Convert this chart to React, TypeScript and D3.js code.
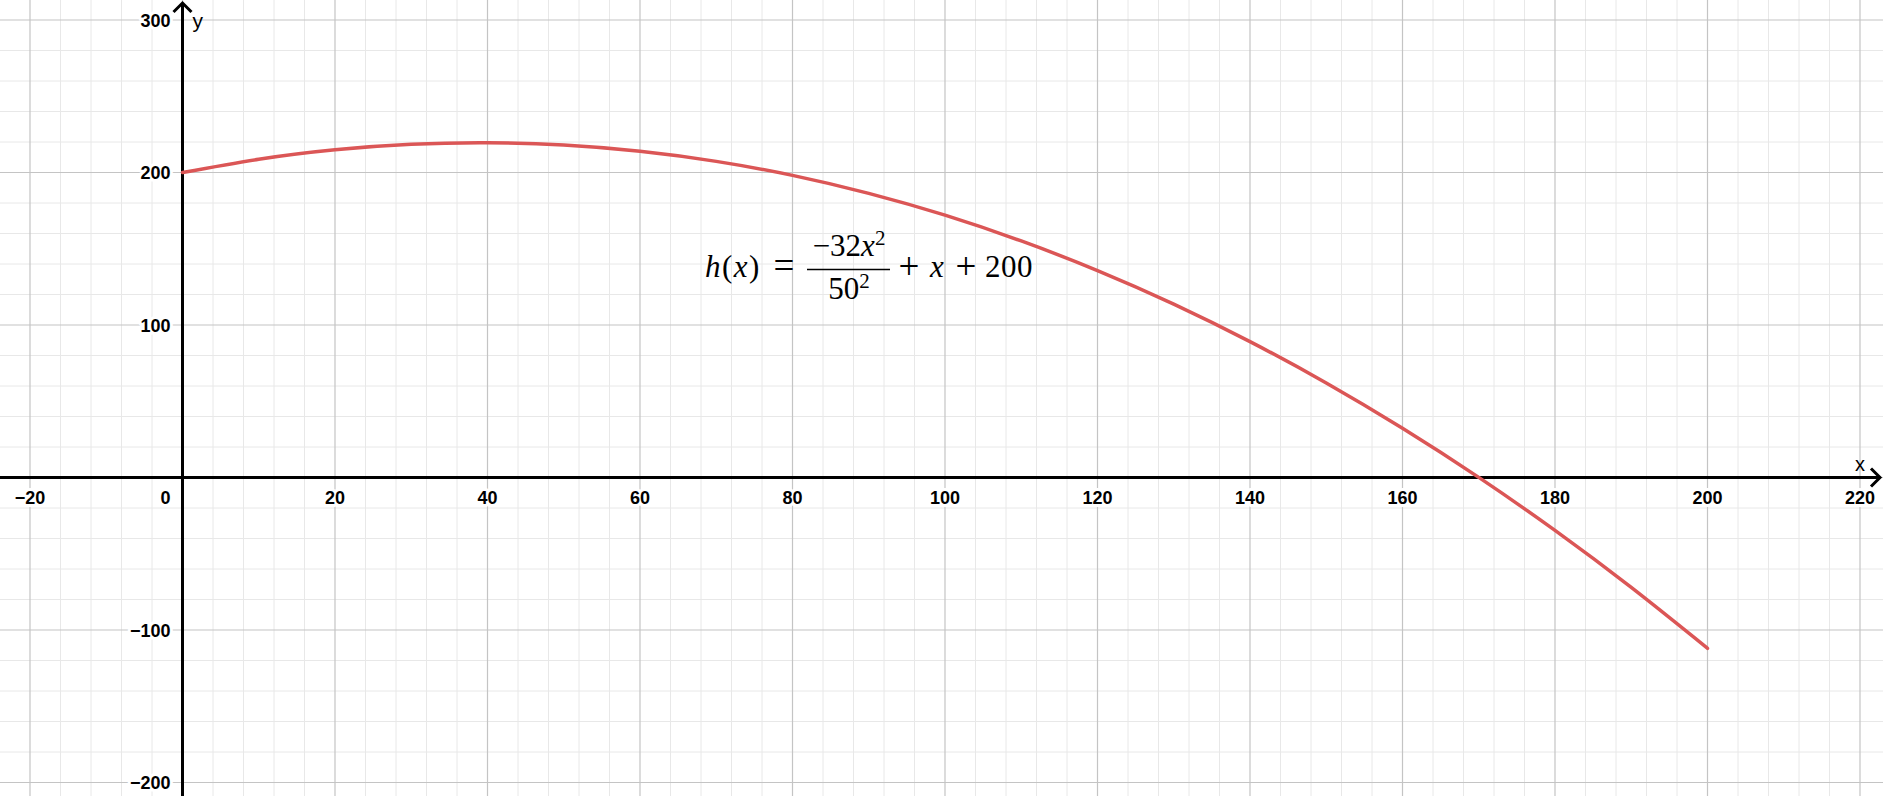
import React, { useEffect, useRef } from 'react';
import * as d3 from 'd3';

// tick labels on the axes
const xTicks = [-20, 20, 40, 60, 80, 100, 120, 140, 160, 180, 200, 220];
const yTicks = [-200, -100, 100, 200, 300];

const curveX = [0, 10, 20, 30, 40, 50, 60, 70, 80, 90, 100, 110, 120, 130, 140, 150, 160, 170, 180, 190, 200];
const curveY = [200, 208.7, 214.9, 218.5, 219.5, 218, 213.9, 207.3, 198.1, 186.3, 172, 155.1, 135.7, 113.7, 89.1, 62, 32.3, 0.1, -34.7, -72.1, -112];

const App = () => {
  const svgRef = useRef(null);

  useEffect(() => {
    const width = 1883;
    const height = 796;

    const svg = d3.select(svgRef.current);
    svg.selectAll('*').remove();
    svg.attr('width', width).attr('height', height);

    const xScale = d3.scaleLinear().domain([-20, 220]).range([30, 1860]);
    const yScale = d3.scaleLinear().domain([-200, 300]).range([782.5, 20]);

    const xMin = xScale.invert(0);
    const xMax = xScale.invert(width);
    const yMin = yScale.invert(height);
    const yMax = yScale.invert(0);

    svg.append('rect').attr('width', width).attr('height', height).attr('fill', '#fff');

    // minor grid
    const grid = svg.append('g');
    d3.range(Math.ceil(xMin / 4) * 4, xMax, 4).forEach(v => {
      if (v % 20 === 0) return;
      grid.append('line')
        .attr('x1', xScale(v)).attr('x2', xScale(v))
        .attr('y1', 0).attr('y2', height)
        .attr('stroke', '#e8e8e8').attr('stroke-width', 1);
    });
    d3.range(Math.ceil(yMin / 20) * 20, yMax, 20).forEach(v => {
      if (v % 100 === 0) return;
      grid.append('line')
        .attr('x1', 0).attr('x2', width)
        .attr('y1', yScale(v)).attr('y2', yScale(v))
        .attr('stroke', '#e8e8e8').attr('stroke-width', 1);
    });

    // major grid
    d3.range(Math.ceil(xMin / 20) * 20, xMax, 20).forEach(v => {
      grid.append('line')
        .attr('x1', xScale(v)).attr('x2', xScale(v))
        .attr('y1', 0).attr('y2', height)
        .attr('stroke', '#c4c4c4').attr('stroke-width', 1.2);
    });
    d3.range(Math.ceil(yMin / 100) * 100, yMax, 100).forEach(v => {
      grid.append('line')
        .attr('x1', 0).attr('x2', width)
        .attr('y1', yScale(v)).attr('y2', yScale(v))
        .attr('stroke', '#c4c4c4').attr('stroke-width', 1.2);
    });

    // axes
    const x0 = xScale(0);
    const y0 = yScale(0);
    svg.append('line')
      .attr('x1', 0).attr('x2', width - 3)
      .attr('y1', y0).attr('y2', y0)
      .attr('stroke', '#000').attr('stroke-width', 3);
    svg.append('line')
      .attr('x1', x0).attr('x2', x0)
      .attr('y1', height).attr('y2', 3)
      .attr('stroke', '#000').attr('stroke-width', 3);

    // arrow heads
    svg.append('path')
      .attr('d', `M${width - 12},${y0 - 9} L${width - 3},${y0} L${width - 12},${y0 + 9}`)
      .attr('fill', 'none').attr('stroke', '#000').attr('stroke-width', 3);
    svg.append('path')
      .attr('d', `M${x0 - 9},12 L${x0},3 L${x0 + 9},12`)
      .attr('fill', 'none').attr('stroke', '#000').attr('stroke-width', 3);

    // tick labels
    const labelStyle = (t: any) => t
      .attr('font-family', '"Liberation Sans", Arial, sans-serif')
      .attr('font-size', 18)
      .attr('font-weight', 'bold')
      .attr('fill', '#000')
      .attr('stroke', '#fff')
      .attr('stroke-width', 6)
      .attr('stroke-linejoin', 'round')
      .attr('paint-order', 'stroke');

    xTicks.forEach(v => {
      svg.append('text')
        .attr('x', xScale(v))
        .attr('y', y0 + 26)
        .attr('text-anchor', 'middle')
        .text(v < 0 ? `\u2212${-v}` : `${v}`)
        .call(labelStyle);
    });
    svg.append('text')
      .attr('x', x0 - 12)
      .attr('y', y0 + 26)
      .attr('text-anchor', 'end')
      .text('0')
      .call(labelStyle);
    yTicks.forEach(v => {
      svg.append('text')
        .attr('x', x0 - 12)
        .attr('y', yScale(v) + 6.5)
        .attr('text-anchor', 'end')
        .text(v < 0 ? `\u2212${-v}` : `${v}`)
        .call(labelStyle);
    });

    // axis names
    svg.append('text')
      .attr('x', 1855).attr('y', y0 - 7)
      .attr('font-family', '"Liberation Sans", Arial, sans-serif')
      .attr('font-size', 20)
      .text('x');
    svg.append('text')
      .attr('x', x0 + 10).attr('y', 28)
      .attr('font-family', '"Liberation Sans", Arial, sans-serif')
      .attr('font-size', 21)
      .text('y');

    // curve
    const pts: [number, number][] = curveX.map((x, i) => [x, curveY[i]]);
    const line = d3.line<[number, number]>()
      .x(d => xScale(d[0]))
      .y(d => yScale(d[1]))
      .curve(d3.curveNatural);
    svg.append('path')
      .attr('d', line(pts))
      .attr('fill', 'none')
      .attr('stroke', '#db5656')
      .attr('stroke-width', 3.5)
      .attr('stroke-linecap', 'round');

    // formula label
    const f = svg.append('g')
      .attr('font-family', '"Liberation Serif", "Times New Roman", serif')
      .attr('font-size', 31)
      .attr('fill', '#000');

    const lhs = f.append('text').attr('x', 705).attr('y', 277).attr('letter-spacing', 1.5);
    lhs.append('tspan').attr('font-style', 'italic').text('h');
    lhs.append('tspan').text('(');
    lhs.append('tspan').attr('font-style', 'italic').text('x');
    lhs.append('tspan').text(')');
    f.append('text').attr('x', 784).attr('y', 278).attr('text-anchor', 'middle').attr('font-size', 37).text('=');

    const num = f.append('text').attr('x', 849).attr('y', 256).attr('text-anchor', 'middle');
    num.append('tspan').text('\u221232');
    num.append('tspan').attr('font-style', 'italic').text('x');
    num.append('tspan').attr('font-size', 21).attr('dy', -11).text('2');

    f.append('line')
      .attr('x1', 807).attr('x2', 890)
      .attr('y1', 269.5).attr('y2', 269.5)
      .attr('stroke', '#000').attr('stroke-width', 1.4);

    const den = f.append('text').attr('x', 849).attr('y', 299).attr('text-anchor', 'middle');
    den.append('tspan').text('50');
    den.append('tspan').attr('font-size', 21).attr('dy', -11).text('2');

    f.append('text').attr('x', 909).attr('y', 279).attr('text-anchor', 'middle').attr('font-size', 37).text('+');
    f.append('text').attr('x', 937).attr('y', 277).attr('text-anchor', 'middle').attr('font-style', 'italic').text('x');
    f.append('text').attr('x', 966).attr('y', 279).attr('text-anchor', 'middle').attr('font-size', 37).text('+');
    f.append('text').attr('x', 985).attr('y', 277).attr('letter-spacing', 0.5).text('200');
  }, []);

  return (
    <div style={{ position: 'absolute', left: 0, top: 0 }}>
      <svg ref={svgRef} style={{ display: 'block' }}></svg>
    </div>
  );
};

export default App;
